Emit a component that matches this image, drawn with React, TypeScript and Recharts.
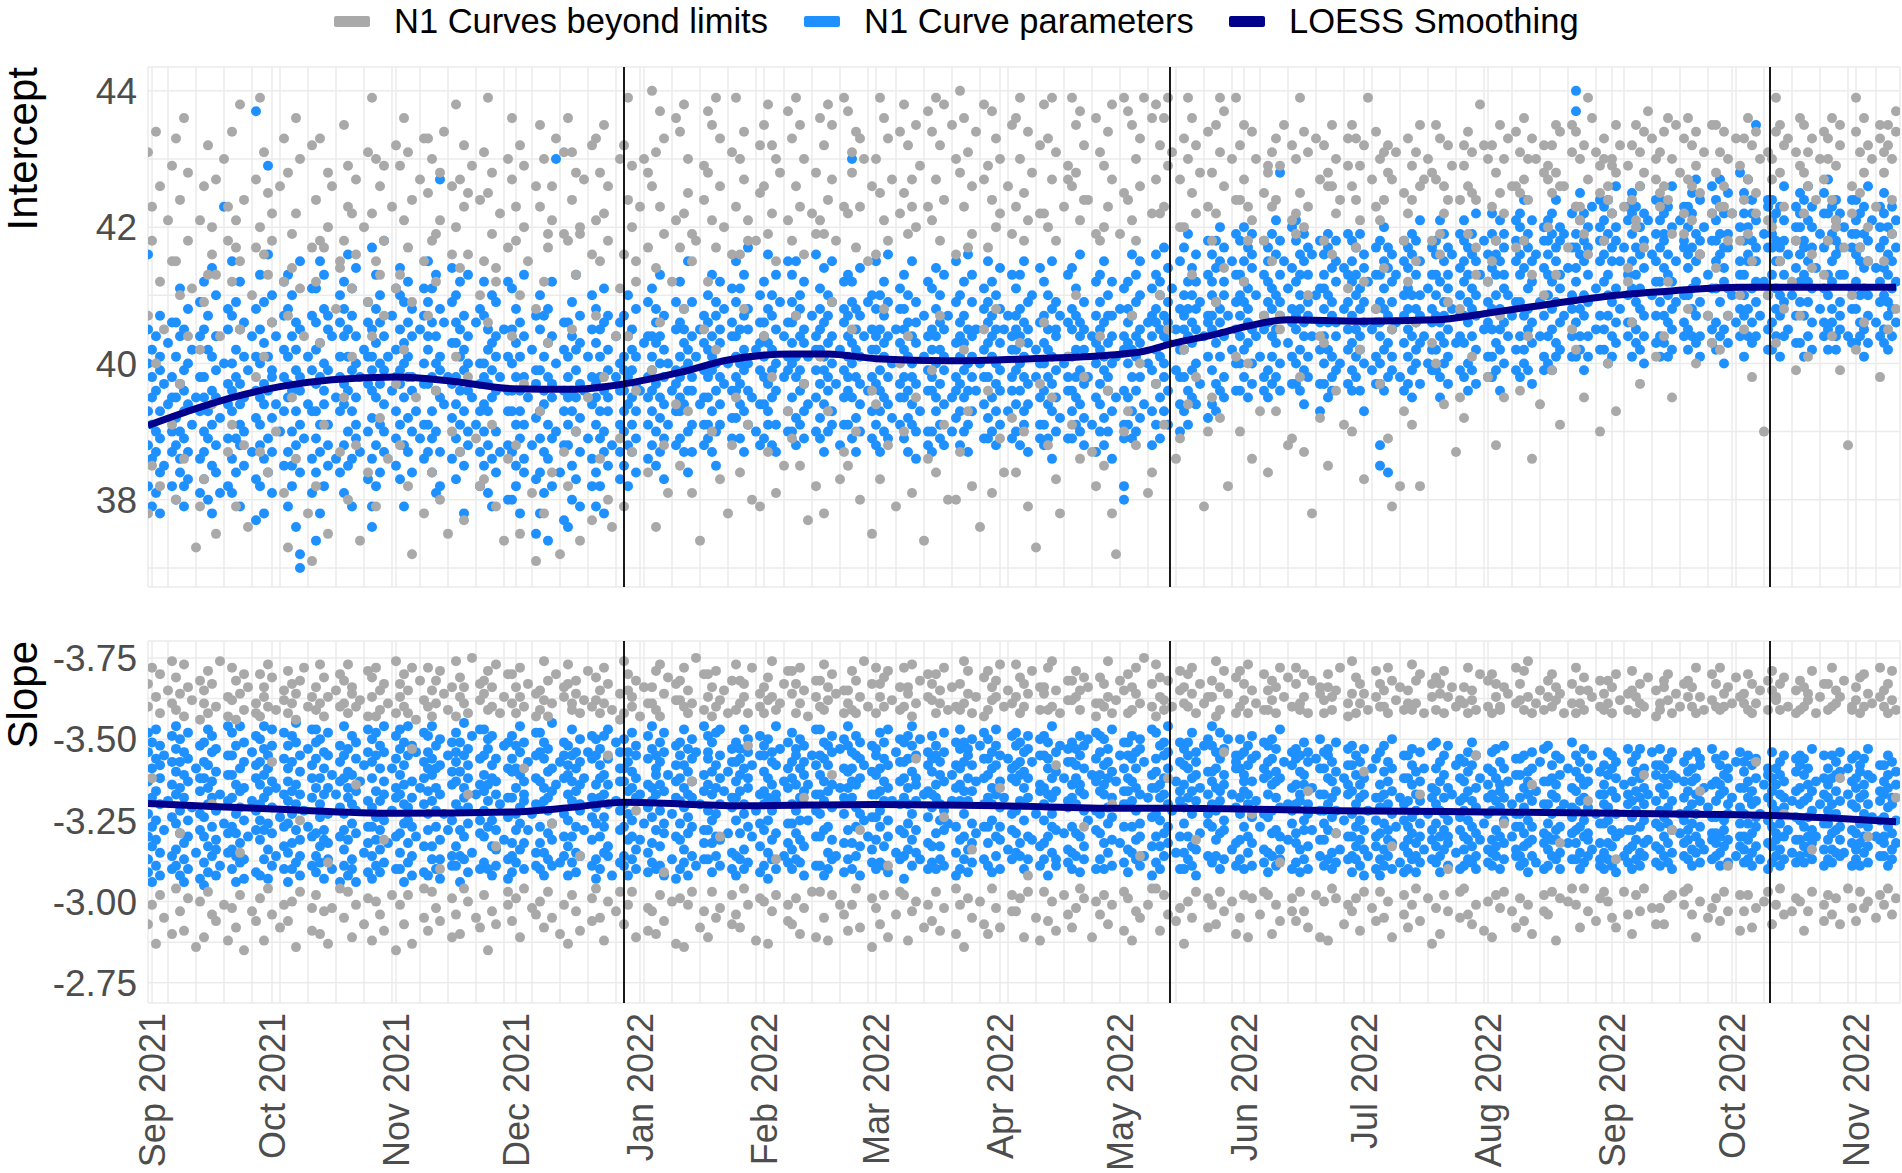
import React from 'react';
import { ComposedChart, Scatter, Line, XAxis, YAxis, CartesianGrid, ReferenceLine } from 'recharts';

// ---------- axes / ticks (x = days since 1 Sep 2021) ----------
const monthTicks = [0, 30, 61, 91, 122, 153, 181, 212, 242, 273, 303, 334, 365, 395, 426];
const monthLabels = ['Sep 2021', 'Oct 2021', 'Nov 2021', 'Dec 2021', 'Jan 2022', 'Feb 2022', 'Mar 2022', 'Apr 2022', 'May 2022', 'Jun 2022', 'Jul 2022', 'Aug 2022', 'Sep 2022', 'Oct 2022', 'Nov 2022'];
const weekTicks = [4, 11, 18, 25, 32, 39, 46, 53, 60, 67, 74, 81, 88, 95, 102, 109, 116, 123, 130, 137, 144, 151, 158, 165, 172, 179, 186, 193, 200, 207, 214, 221, 228, 235, 249, 256, 263, 270, 277, 284, 291, 298, 305, 312, 319, 326, 333, 340, 347, 354, 361, 368, 375, 382, 389, 396, 403, 410, 417, 424, 431];
const phaseLines = [118, 254.5, 404.5];
const interceptTicks = [37, 38, 39, 40, 41, 42, 43, 44];
const interceptMajor = [38, 40, 42, 44];
const interceptMajorLabels = ['38', '40', '42', '44'];
const slopeTicks = [-3.75, -3.625, -3.5, -3.375, -3.25, -3.125, -3, -2.875, -2.75];
const slopeMajor = [-3.75, -3.5, -3.25, -3, -2.75];
const slopeMajorLabels = ['-3.75', '-3.50', '-3.25', '-3.00', '-2.75'];

// ---------- LOESS smoothing ----------
const interceptLoessDays = [-1, 10, 20, 32, 45, 61, 75, 90, 105, 118, 132, 144, 160, 169, 181, 199, 220, 239, 248, 255, 266, 274, 284, 302, 321, 333, 354, 366, 381, 397, 415, 436];
const interceptLoessValues = [39.09, 39.32, 39.5, 39.66, 39.76, 39.8, 39.74, 39.63, 39.62, 39.7, 39.87, 40.05, 40.14, 40.14, 40.07, 40.04, 40.07, 40.12, 40.18, 40.29, 40.43, 40.55, 40.64, 40.62, 40.64, 40.73, 40.91, 41.0, 41.07, 41.12, 41.12, 41.12];
const slopeLoessDays = [-1, 15, 32, 61, 90, 105, 118, 147, 181, 212, 242, 255, 296, 333, 366, 405, 420, 436];
const slopeLoessValues = [-3.302, -3.293, -3.284, -3.272, -3.276, -3.29, -3.306, -3.295, -3.299, -3.295, -3.287, -3.287, -3.28, -3.276, -3.272, -3.265, -3.257, -3.246];

// ---------- point data: one string per week (Tue..Mon, first day = 31 Aug 2021), days split by "|" ----------
// intercept codes: value = 36 + code/10
const interceptBlueWeeks = [
  '56 40 22 33 28 45|31 19 38 26 42 35|27 44 21 36 30|39 24 47 33 29 18 41|25 37|34 43|30 22 46 38 27 35',
  '28 41 35 20 46 32|37 24 44 30 51 26|22 39 33 45 29 36 19|40 27 48 34 23|31 42|35|26 38 49 21 33 44',
  '45 30 23 38 52 27 35|20 42 33 47 29|36 25 41 31 54 18|39 28 44 24 35 50|32 21|40 63|29 45 37 22 34 48',
  '33 47 26 40 21 36 55|42 29 38 24 49|31 45 19 37 28 52 34|25 41 35 46 30|39|27 44|36 23 48 32 41 17 77',
  '40 28 53 35 22 45 31|37 49 26 43 18 34|29 41 36 56 24 69|46 32 39 21 50 27 38|34 44|30|42 25 38 52 33 47',
  '35 48 27 41 19 53 37|44 30 36 25 50 22|39 46 28 42 33 16|31 38 55 24 45 36 10 12|29|41 34|47 26 39 33 51 21',
  '42 29 37 51 24 46 33 14|38 55 27 43 31 18|36 48 22 40 34 53|25 39 45 31 28 47|44|35 26|33 50 41 24 38 46',
  '37 52 28 44 34 21 48|41 30 56 36 25 45|33 47 39 26 51 19|44 35 29 40 54 31|38 27|42|30 46 37 23 49 41',
  '45 32 39 57 26 41 36 16 19|28 48 35 43 22 53|40 31 50 37 24 46|34 44 27 39 58 30|41|36 47|25 42 33 51 38 29',
  '39 50 31 45 23 37 54|43 28 40 35 49 19|32 46 38 27 52 41|36 30 44 24 48 38|33|45 29|40 26 51 37 31 47',
  '31 44 37 55 27 42 49|38 24 46 33 51 29|44 36 21 40 30 53|27 41 48 35 39 22 67|46 34|38|32 49 43 26 37 54',
  '43 29 38 50 23 46 34|36 52 27 41 31 45|25 39 47 33 18 42|40 28 36 53 30 44|35|31 46|37 22 48 40 27 33',
  '34 47 25 40 30 52 38|42 21 37 45 28 33|39 50 26 43 35 19|30 44 36 24 49 41|27 38|45|33 41 20 36 52 28',
  '40 27 45 33 20 51 36|31 43 25 38 48 22|36 29 46 18 41 33|44 26 38 53 31 24|35|28 42|39 23 47 32 37 15',
  '33 45 24 39 18 50 29|41 27 36 47 21 34|26 43 31 38 14 48|37 22 44 29 35 52|30 40 70|24|42 28 36 17 46 33',
  '28 41 35 16 46 31 38|44 25 33 20 49 36|39 30 42 23 35 53|32 47 19 37 27 43|36|41 29|34 22 45 38 26 50',
  '37 24 43 31 48 19 35|29 45 38 22 41 33|46 27 36 51 30 18|35 42 25 39 33 47|28|38 44|31 40 23 46 36 27',
  '41 30 36 47 25 39 33|34 44 28 50 38 22|39 31 45 27 42 35|29 37 48 33 24 41|36|43|38 26 44 31 35 49',
  '44 33 39 28 51 36 41|37 48 30 43 25 46|32 40 53 35 27 44|47 29 38 42 34 23|40 31|36|45 33 28 49 39 37',
  '35 46 41 29 52 38 33|43 27 39 48 34 45|30 42 36 55 24 40|38 49 31 44 27 36|41|34 45|39 28 47 35 43 31',
  '42 35 50 29 46 38 31|39 53 33 44 27 41|47 36 30 49 40 25|34 45 38 52 31 43|37 48|40|44 32 51 36 29 46',
  '38 49 32 44 55 36 41|45 29 40 51 34 37|33 47 42 27 53 39|48 36 31 45 40 57|35|42 30|39 50 34 46 28 43',
  '46 34 41 52 29 38 44|37 48 33 43 56 31|42 28 50 39 35 47|31 45 40 53 27 36|49|38 44|41 33 55 30 46 39',
  '40 53 35 46 30 43 49|47 32 41 38 55 28|36 50 44 31 48 39|43 29 52 37 45 33|41 34|47|30 44 39 56 35 42',
  '45 37 51 32 42 48 29|39 54 34 46 41 27|50 36 43 30 47 38|33 49 40 55 31 44|37|42 28|46 35 52 39 31 48',
  '38 47 31 44 53 36 41|43 29 49 35 40 52 70|32 45 38 27 48 42|47 34 41 30 54 37|44|36 49|33 42 50 29 45 38',
  '44 31 48 37 42 55 28|36 50 33 45 39 27|47 35 41 52 30 43|29 44 38 49 34 56|40 32|45|37 48 31 43 51 35',
  '35 48 42 29 53 38 45|41 32 46 36 50 27|38 44 31 55 40 34|46 30 43 37 49 26|33|41 47|36 52 30 44 39 28',
  '42 36 51 30 45 38 27|48 33 40 54 35 44|29 46 37 42 31 50|39 53 34 45 28 41|47|35 30|43 38 49 32 55 36',
  '37 50 33 44 28 46 41|43 35 52 30 47 39|31 45 40 56 36 27|49 38 44 33 41 53|36 45|40|34 48 42 29 51 38',
  '46 32 43 38 55 29 49|35 47 41 30 44 52|40 33 50 37 45 28|43 54 36 48 31 39|45|33 47|38 42 29 53 36 44',
  '39 51 34 45 30 47 42|44 28 40 53 36 48|33 46 38 31 55 41|37 49 43 27 45 34|50|38 42|31 46 40 54 35 29',
  '43 36 52 31 47 40 28|38 50 34 45 29 42|48 33 41 55 37 26|45 39 30 49 35 44|32 47|40|41 29 53 36 46 38',
  '36 48 41 33 54 29 45|42 31 47 38 51 35|30 44 39 56 34 46|49 37 42 28 45 32|38|44 31|47 35 52 40 27 43',
  '45 30 49 37 42 53 34|39 46 32 55 41 28|47 36 43 30 50 38|33 44 40 52 26 47|41 35|48|36 42 31 51 44 29 20 22',
  '40 52 35 46 31 48 43|47 33 42 56 38 29|36 49 44 30 53 41|45 38 32 50 43 55|34|46 40|39 51 33 47 28 44',
  '48 37 53 42 31 46 56|41 50 35 45 29 52|44 38 57 33 47 40|36 49 43 54 31 46|51|39 45|42 55 34 48 38 30',
  '45 57 38 50 33 47 42|52 36 48 44 59 31|39 54 46 35 50 43|48 40 56 34 45 52|37 49|44|53 41 47 32 58 46',
  '50 39 56 45 34 52 47|43 58 37 49 54 33|55 41 48 36 60 46|38 52 44 57 35 50|47|42 55|49 36 59 45 40 53',
  '47 58 40 53 36 50 44|55 42 49 60 38 52|43 57 46 35 51 48|59 40 54 45 37 56|50 44|41|53 47 38 58 45 36',
  '52 39 57 46 35 49 55|44 59 41 51 37 48|56 43 50 38 61 45|40 53 47 36 58 49 68|55|43 51|46 37 54 48 60 41',
  '45 58 37 52 47 61 40|53 42 56 48 36 50|39 55 44 59 46 34|57 41 49 53 38 47|44 56|50|42 58 37 51 46 33',
  '51 40 56 44 37 53 48|42 57 46 35 50 59|47 38 54 41 49 36|55 44 39 58 46 52|40|48 54|37 53 45 59 42 49',
  '47 55 39 52 43 58 36|50 41 57 45 38 53|44 59 48 36 51 42|56 40 49 46 33 54|52|45 39|48 57 41 53 37 46',
  '40 53 46 58 37 49 44 25 28|55 42 48 36 51 60|47 38 54 43 57 24|41 52 45 39 56 49|46 53|38|50 43 58 36 47 55',
  '54 41 48 37 57 45 51|39 56 44 50 35 59|46 53 40 58 42 48|37 50 55 43 47 61|44|51 40|57 46 39 53 48 42',
  '47 58 42 53 39 50 56|44 61 38 52 46 35|55 43 49 59 40 47|51 37 57 45 53 41|48 56|43|39 54 47 59 44 50',
  '52 43 58 47 38 55 61|46 53 40 57 49 36|59 44 51 39 56 48|42 55 47 62 37 50|53|45 58|49 41 56 38 52 46',
  '48 59 41 54 45 62 38|56 43 50 58 39 53|45 61 48 36 55 42|51 46 59 40 53 57|44 50|47|58 42 55 39 49 61',
  '53 44 60 49 38 56 62|47 58 42 54 64 40|59 45 51 39 57 48|43 55 61 46 52 37|56|49 44|60 41 54 47 58 39',
  '50 61 44 56 40 58 53|62 45 52 39 59 48|43 57 64 49 41 55|58 46 53 60 42 51|47 59|54|44 62 50 57 41 48',
  '57 46 63 52 41 59 54 80 77|48 61 44 56 65 42|55 50 39 62 47 58|44 60 53 41 57 49|63|51 45|58 42 60 47 55 64',
  '52 63 45 58 42 56 61|47 59 53 40 64 50|62 44 57 49 55 41|58 51 66 46 43 60|48 55|57|44 61 50 63 46 53',
  '55 46 62 51 41 59 65|49 57 43 63 53 45|60 48 56 42 66 51|44 62 54 47 58 40|61|50 56|47 64 52 43 59 55',
  '49 61 44 57 52 64 41|58 47 54 62 43 59|46 63 50 41 56 53|60 45 52 66 48 42|55 49|61|44 57 63 50 46 58',
  '56 45 63 50 42 60 54|48 62 57 44 65 51|59 43 55 67 47 52|41 58 64 49 56 44|60|53 47|62 45 58 51 66 43',
  '51 64 46 58 42 61 55|63 49 56 44 59 67|45 57 52 62 40 54|59 47 65 51 43 57|50 62|46|55 68 48 60 44 53',
  '58 47 62 53 41 65 50|44 60 55 67 48 56|62 51 43 58 46 64|49 57 52 44 61 55 75|47|59 52|64 45 57 50 63 42',
  '46 59 53 64 42 57 61|55 48 62 44 58 51|47 63 50 57 41 55|61 44 58 66 49 53|56 45|50|43 60 54 47 63 58',
  '60 49 56 43 62 52 65|47 58 53 41 64 57|55 44 61 49 66 52|42 57 63 51 46 60|54|48 59|62 51 44 57 65 46',
  '53 62 45 58 50 67 42|59 46 55 63 48 52|44 61 56 42 58 64|57 49 53 45 62 47|60 53|44|51 64 48 57 43 59',
  '48 59 64 52 43 56 61|55 44 62 50 57 46|63 51 45 59 54 41|50 66 47 58 43 55|61|46 54|57 49 63 44 52 60',
  '54 45 62 50 58 43 65|47 60 53 56 42 49|59 51 44 63 48 55|52 46 61 57',
];
const interceptGrayWeeks = [
  '71 47 18|58 25 63|74 40|52 22 66|45|61|69 31 55',
  '55 73 20|64 37 50|76 26|58 44 68|51|13|61 19 42',
  '66 49 23|72 53|60 34 56|53 15 67|44|70|58 27 63',
  '74 52 31|61 19 57|55 45 78|64 28|16|50|67 38 57',
  '60 79 27|56 71 41|65 24 53|58 46 62|30|66|52 73 21',
  '68 47 13|54 59 35|62 26 76|51 70|44|18|57 11 72',
  '64 52 22|73 43 58|57 31|68 60 15|66|48|55 54 27',
  '75 58 35|63 20 69|51 62 41|67 28 56|14|60|49 71 24',
  '62 44 79|70 55 19|66 32 53|58 47 69|26|63|72 51 37',
  '69 53 28|76 61 42|57 22 71|64 49 12|35|67|55 73 18',
  '73 47 65|58 24 70|59 52 36|61 20 68|74|15|66 56 30',
  '60 78 41|67 27 54|72 63 17|56 65 38|69|29|64 50 22',
  '71 55 23|65 46 79|59 31 68|54 19 52|62|14|70 57 26',
  '67 44 76|58 28 63|72 50 15|69 37 60|55|21|48 66 11',
  '63 75 33|70 52 18|57 59 43|66 24 61|73|12|59 71 27',
  '76 58 22|64 45 71|53 30 68|59 60 14|67|35|72 56 17',
  '61 73 47|68 26 55|75 62 38|58 66 20|16|44|70 51 29',
  '72 56 19|79 64 44|60 27 69|55 52 36|63|70|57 68 24',
  '66 80 39|71 54 16|63 46 77|59 73 28|21|52|76 61 34',
  '74 57 25|62 78 48|70 33 65|59 55 21|58|14|64 45 69',
  '68 52 77|75 30 61|57 79 42|66 23 73|60|18|71 56 28',
  '79 63 35|70 56 24|74 48 67|61 58 31|20|58|65 72 19',
  '66 75 44|59 78 27|72 62 38|70 55 21|68|25|61 77 33',
  '73 58 29|79 66 47|63 25 75|70 56 37|17|62|68 59 22',
  '61 76 41|72 59 18|78 64 33|67 49 75|58|23|79 63 27',
  '77 62 25|68 71 45|74 57 30|63 73 20|70|55|66 15 36',
  '70 56 34|79 65 23|61 76 48|73 58 28|67|19|62 74 40',
  '65 78 30|72 59 44|63 67 21|60 75 35|69|14|77 63 26',
  '74 61 39|67 79 24|58 72 47|78 64 31|20|75|70 56 20',
  '80 68 27|63 76 42|71 57 33|59 66 22|74|16|67 78 45',
  '69 57 36|77 64 21|73 60 48|62 70 29|24|66|59 75 32',
  '76 63 24|70 79 43|65 58 30|74 61 19|68|13|72 62 37',
  '62 78 46|73 60 28|79 67 35|71 58 23|18|63|67 69 41',
  '79 66 31|68 75 50|61 77 26|72 64 38|64|27|76 59 22',
  '71 58 44|60 69 25|74 63 36|67 78 18|12|59|65 79 30',
  '64 77 33|75 61 47|70 58 28|66 73 40|79|21|62 76 24',
  '78 67 37|72 62 50|63 76 31|79 69 45|71|26|67 60 29',
  '73 60 42|79 70 34|76 65 53|62 72 38|68|19|74 63 30',
  '58 68 35|75 62 49|71 79 32|66 77 54|22|70|79 64 41',
  '72 64 30|67 75 52|58 63 40|74 61 26|70|33|65 47 58',
  '69 68 24|63 71 55|73 64 33|45 69 47|75|28|72 61 29',
  '70 62 59|65 79 38|74 60 27|71 63 50|18|73|67 44 32',
  '58 72 43|68 66 25|75 66 56|62 70 36|64|31|73 69 51',
  '66 75 30|73 64 57|69 61 42|52 72 23|79|67|74 63 48',
  '61 70 37|64 71 54|68 72 29|67 45 19|71|22|65 58 33',
  '73 62 52|69 64 31|55 71 46|75 66 22|67|70|68 43 58',
  '75 67 40|59 73 56|66 62 34|72 64 49|69|27|48 64 35',
  '69 72 32|74 66 59|65 71 41|64 57 53|78|72|70 52 38',
  '63 72 55|68 58 28|75 65 47|62 70 35|73|66|66 74 57',
  '71 65 36|76 67 58|64 70 44|53 73 26|70|34|72 68 50',
  '67 69 60|72 65 39|68 75 53|66 74 31|66|57|75 71 45',
  '74 63 42|70 63 61|59 72 35|67 79 56|76|71|65 69 30',
  '70 73 58|66 64 40|69 70 62|75 68 33|72|63|69 52 54',
  '72 64 46|61 75 60|71 66 37|68 74 57|77|73|67 70 41',
  '65 71 63|74 66 44|64 76 52|70 59 35|75|68|73 62 59',
  '67 76 48|66 72 61|74 69 40|56 65 56|71|47|75 62 43',
  '75 68 54|71 63 42|66 74 63|58 70 47|62|73|69 50 58',
  '64 73 45|76 67 59|72 55 38|74 65 62|70|30|61 71 50',
  '70 67 60|79 74 43|75 68 55|63 72 48|73|52|71 58 39',
  '76 69 47|68 75 62|66 71 41|73 54 56|64|70|74 67 53',
  '73 70 58|64 76 44|69 60 61|75 72 39|57|28|66 62 50',
  '79 74 42|71 65 57|76 68 46|72 55 60|70|63|75 73 38',
  '68 71 55|75 72 45|64 70 59|77 74 48',
];
// slope codes: value = -2.75 - code/100
const slopeBlueWeeks = [
  '34 52 71 45 62 38 77|48 66 31 57 74 42|59 36 69 50 78 44|63 40 55 73 33 67|47 70|56|39 61 76 51 35 68',
  '72 41 58 36 65 79 49|53 68 33 46 75 60|38 57 71 43 64 31|77 50 35 62 45 69|54|66 40|73 47 59 32 63 52',
  '45 63 37 74 51 68 30|60 42 78 55 34 67|71 48 39 62 57 76|33 65 53 44 72 41|58 36|49|64 79 40 56 70 46',
  '57 35 70 48 77 41 64|39 61 52 73 46 31|66 54 79 37 59 43|74 32 60 50 68 38|45|71 56|34 63 47 76 53 67',
  '68 50 33 61 44 75 55|47 72 38 64 57 79|32 59 49 70 41 66|54 78 36 62 46 73|60 39|51|42 69 58 35 77 48',
  '40 66 56 31 73 49 62|76 43 59 35 68 52|61 37 74 47 55 80|44 70 58 33 65 39|53|48 72|67 36 57 78 45 63',
  '74 46 60 39 69 34 78|51 63 42 75 55 37|47 71 58 32 66 44|60 38 77 52 43 70|35 64|58|45 73 54 68 31 62',
  '52 70 36 63 47 79 41|65 33 57 72 44 60|38 76 49 64 35 55|69 46 59 31 74 53|62|40 67|56 34 71 48 78 43',
  '63 39 75 54 32 68 48|44 70 59 36 77 51|73 56 41 66 47 34|58 79 37 62 50 71|43|66 53|35 60 76 45 69 57',
  '46 72 58 35 64 78 40|67 49 31 74 55 61|54 37 70 43 79 50|33 62 48 73 57 39|71 45|60|68 42 55 77 34 63',
  '59 33 66 47 76 52 71|38 64 56 79 42 69|48 73 35 60 53 66|75 44 67 38 58 32|52|47 70|61 39 74 50 65 36',
  '71 55 42 68 36 62 77|53 39 74 47 65 31|60 80 45 57 70 38|49 63 34 72 54 67|40 76|58|46 69 35 61 78 50',
  '37 64 53 78 45 70 59|72 48 35 61 56 75|42 67 50 33 76 63|58 36 69 47 62 41|55|73 44|66 51 38 74 57 32',
  '65 43 76 39 57 69 34|47 73 60 52 37 66|79 54 41 64 49 71|35 62 56 74 43 58|68 47|52|40 77 63 36 70 55',
  '54 71 35 62 48 77 43|69 40 56 74 33 60|46 65 53 38 72 57|80 49 36 66 59 44|61|37 68|74 52 45 63 39 70',
  '42 67 58 33 73 50 64|56 78 45 37 62 70|34 59 71 48 66 40|53 75 61 39 55 68|47 63|71|57 36 69 44 76 51',
  '75 49 61 38 70 54 32|63 45 72 57 35 67|51 76 40 64 48 58|39 69 55 78 42 61|33|56 74|62 47 37 71 53 66',
  '48 66 39 75 55 62 36|71 52 44 68 59 33|65 38 77 50 60 45|57 73 41 63 35 70|58 44|49|69 54 76 40 61 34',
  '60 37 72 51 43 79 56|35 64 58 70 47 66|53 74 42 61 36 68|77 49 59 33 71 46|64|52 38|73 57 45 67 32 62',
  '44 70 56 63 35 74 49|67 41 78 54 60 37|58 33 65 46 72 51|62 75 39 57 48 69|36 71|55|47 64 79 43 59 38',
  '69 53 38 76 47 61 71|43 58 65 34 74 50|77 45 60 52 39 67|36 63 55 70 44 78|59|46 65|54 72 40 68 35 57',
  '39 62 74 50 68 33 57|64 46 72 59 38 69|52 78 41 66 55 35|71 48 63 37 75 60|45 67|53|76 42 58 34 70 49',
  '73 47 59 36 70 55 65|50 75 40 63 57 32|68 44 71 53 38 61|56 79 46 67 35 58|72|39 62|49 74 60 43 66 37',
  '55 68 41 77 49 63 35|72 38 61 53 70 46|37 66 57 44 75 50|64 42 73 59 33 68|50 61|70|58 36 67 78 45 53',
  '64 36 70 52 45 78 58|47 69 33 62 56 74|59 73 40 67 48 35|71 54 38 76 61 44|39|60 72|52 66 43 57 75 34',
  '38 60 73 47 65 56 79|66 43 57 71 35 62|48 76 61 39 54 70|33 69 52 63 42 74|67 50|45|73 58 37 65 51 41',
  '70 51 35 64 58 72 44|59 77 48 37 66 53|74 42 62 56 69 36|45 60 78 50 34 67|56|71 40|62 47 75 55 38 68',
  '46 74 63 39 57 68 32|69 55 41 76 49 60|36 65 52 73 44 79|61 40 70 56 47 63|75 38|58|51 67 43 71 59 35',
  '58 42 69 54 76 37 65|35 61 73 46 57 70|64 50 38 68 55 42|77 47 62 36 71 53|49|64 56|40 74 60 33 67 48',
  '72 56 44 66 35 61 78|52 38 68 59 74 45|41 72 56 63 34 70|59 75 43 67 49 37|62 46|73|55 38 69 48 77 63',
  '43 69 57 75 48 36 64|66 50 34 71 60 55|78 45 67 39 58 73|48 62 54 35 70 44|57|69 41|63 52 76 38 66 47',
  '67 40 73 53 62 46 77|39 64 56 74 43 68|55 35 60 71 50 65|72 45 38 63 57 76|44 68|52|36 70 59 75 42 61',
  '50 76 38 60 70 55 43|74 58 45 66 33 69|63 48 79 52 40 57|36 71 59 47 65 38|73|46 63|68 54 41 72 56 37',
  '61 35 68 48 74 57 40|55 72 63 39 67 46|34 59 70 45 76 61|66 42 53 73 38 58|50 75|64|47 62 35 69 53 77',
  '76 59 46 71 38 64 52|43 67 58 75 35 61|68 40 54 63 49 72|57 78 44 65 36 51|62|43 70|59 37 74 48 66 55',
  '41 63 55 70 34 59 74|62 48 76 40 56 69|53 71 44 66 38 60|75 49 58 36 72 45|68 39|57|64 51 78 42 60 33',
  '69 52 37 65 60 77 45|57 73 42 61 50 35|70 46 58 74 39 63|43 66 55 71 48 79|53|62 40|74 56 45 68 35 59',
  '54 72 61 40 67 49 35|66 45 70 57 38 74|42 63 52 77 59 36|68 56 41 64 33 71|60 46|73|49 65 58 39 75 52',
  '37 65 48 73 55 62 79|71 53 39 60 66 44|59 77 46 35 69 56|50 38 72 61 47 64|75|41 58|66 36 70 54 43 68',
  '66 44 70 57 38 75 52|48 64 59 35 71 62|73 40 55 67 45 58|62 76 43 51 69 36|56 70|48|37 63 74 52 66 41',
  '58 73 40 64 51 34 68|61 46 75 53 39 69|47 62 36 72 57 65|41 54 78 45 63 38|68|55 44|71 49 60 35 67 53',
  '43 61 72 55 46 69 37|70 56 41 65 58 34|64 50 74 38 61 47|55 68 35 71 52 42|60 47|69|53 39 66 44 75 58',
  '71 49 58 36 66 53 44|38 63 70 47 55 72|57 35 68 51 62 40|74 46 59 37 65 53|41|63 50|58 72 45 61 38 67',
  '52 67 39 59 45 73 34|64 42 55 70 38 48|36 61 50 44 68 57|47 72 33 58 41 63|53 39|66|45 57 35 69 50 42',
  '61 38 54 46 71 33 57|49 65 41 58 36 73|55 44 68 39 62 47|35 59 52 75 43 66|48|57 37|70 42 55 34 63 50',
  '40 63 48 70 35 56 44|67 51 38 61 46 72|43 58 34 65 53 39|62 45 71 37 56 49|66 41|52|38 60 47 73 44 57',
  '55 42 66 37 59 49 74|39 62 53 45 68 34|70 47 57 41 64 52|45 36 60 73 50 43|58|67 40|51 35 63 47 69 56',
  '68 45 53 36 62 41 57|50 71 44 59 38 65|37 56 48 67 42 74|60 39 54 46 70 35|44 63|49|57 41 66 52 37 61',
  '44 58 71 40 53 65 36|63 47 39 56 72 42|54 68 35 61 45 59|38 66 50 43 57 73|62|45 55|69 39 52 64 41 48',
  '57 39 64 48 36 69 52|42 60 54 70 37 46|65 43 58 34 62 50|71 48 39 66 44 56|37 59|68|46 62 35 55 72 43',
  '36 62 49 73 45 55 41|58 44 67 39 52 63|47 70 38 57 44 61|53 35 64 48 69 40|55|43 66|60 38 51 74 46 54',
  '65 47 38 59 53 70 43|40 63 56 35 68 48|61 45 72 50 37 57|44 66 39 62 54 46|70 41|52|38 58 65 43 49 36',
  '49 67 55 40 61 35 58|71 43 50 64 38 54|36 59 47 66 42 70|57 45 63 34 52 68|46|61 39|55 72 41 58 47 37',
  '42 56 68 47 35 62 51|59 38 65 44 53 70|48 72 40 57 36 63|66 50 43 60 39 55|58 44|71|37 64 49 56 42 67',
  '60 41 53 36 67 48 72|45 63 51 39 58 66|54 37 69 43 61 49|40 71 56 47 64 35|63|52 46|68 43 57 39 62 50',
  '38 65 47 59 44 70 53|62 49 36 66 55 41|71 45 58 40 63 52|48 67 37 56 43 69|41 60|54|46 61 38 72 51 44',
  '56 43 62 39 69 51 46|40 67 58 45 61 36|64 50 42 70 47 59|37 55 66 44 52 63|57|39 68|49 60 42 54 71 45',
  '45 68 37 60 52 41 65|57 44 70 49 38 62|40 59 55 67 46 36|63 51 42 69 48 56|52 38|61|66 43 57 35 64 50',
  '63 48 55 42 71 37 59|46 61 39 66 53 44|58 36 64 49 41 68|54 70 45 57 38 62|47|56 40|44 65 51 69 37 59',
  '39 60 50 67 44 55 70|64 42 56 37 69 48|51 66 40 61 45 57|43 59 72 38 53 47|62 45|55|70 41 58 49 63 36',
  '57 44 66 38 61 49 53|41 70 55 46 63 37|68 47 59 40 64 52|56 39 65 44 71 48|40|58 66|47 62 36 55 43 69',
  '46 63 41 70 54 38 60|67 49 57 43 65 36|40 58 52 69 45 61|64 37 55 48 72 42|51 63|45|59 39 67 44 56 50',
  '62 45 58 39 67 51 43|48 64 36 60 54 70|55 41 68 46 57 38|43 65 50 61',
];
const slopeGrayWeeks = [
  '92 18 85|97 24 63|88 12|83 27 95|20|90|86 15 99',
  '84 29 94|22 89 46|98 16 82|26 91|87|11|93 25 81',
  '90 14 86|96 28 83|21 92 55|85 19|99|24|88 82 13',
  '87 23 97|81 17 93|89 27 40|84 10 95|91|22|83 86 19',
  '95 26 82|88 13 91|85 29 98|21 94 68|84|17|90 24 87',
  '83 19 96|92 25 86|11 89 81|28 93 50|97|85|16 88 23',
  '91 27 84|86 15 98|94 22 82|88 12 37|23|90|85 29 95',
  '86 20 93|98 28 83|89 14 91|24 85 61|87|18|96 82 26',
  '94 13 88|82 25 97|90 21 84|16 92 44|86|27|83 99 10',
  '88 24 92|85 18 95|27 83 90|97 12 72|81|93|20 87 29',
  '97 16 85|90 28 82|93 23 86|19 96 35|89|84|26 91 14',
  '82 21 99|94 15 88|86 29 91|83 25 58|100|20|92 87 17',
  '89 27 93|84 10 96|22 91 85|98 18 42|83|88|24 95 28',
  '95 19 86|91 26 83|88 14 97|85 29 66|92|23|82 89 21',
  '84 25 90|99 17 87|93 28 82|20 86 49|95|15|91 24 88',
  '92 12 98|86 27 84|89 22 93|83 16 39|87|96|26 85 19',
  '87 29 94|83 20 90|97 13 86|25 92 70|84|22|89 81 28',
  '99 18 83|90 24 95|85 28 88|14 93 53|82|91|23 86 16',
  '86 22 91|96 15 84|82 27 98|89 19 34|94|25|87 92 12',
  '93 26 87|85 11 97|90 24 83|28 86 62|100|17|84 95 22',
  '88 14 95|82 28 91|96 20 85|87 23 45|90|83|27 93 18',
  '84 21 98|93 17 86|88 29 92|24 83 73|97|13|89 85 26',
  '91 25 83|87 12 94|99 22 88|84 27 38|86|92|19 96 24',
  '96 18 89|83 26 92|86 15 97|90 23 57|82|28|93 88 14',
  '85 28 93|98 20 84|91 13 87|27 95 64|89|24|83 90 21',
  '90 16 86|84 24 96|93 29 83|17 88 47|99|85|26 92 11',
  '83 23 97|92 18 88|85 27 94|96 14 36|87|21|91 84 28',
  '97 27 85|89 13 91|82 22 98|86 25 69|93|17|88 95 24',
  '87 19 92|95 28 83|90 16 86|23 97 51|84|91|29 85 15',
  '92 24 84|86 11 99|96 26 89|83 20 41|88|25|94 82 18',
  '84 15 96|91 29 87|88 23 93|98 17 60|85|90|22 86 27',
  '98 22 88|83 26 94|92 14 85|89 28 33|96|20|84 91 13',
  '89 28 91|97 19 84|85 25 99|16 90 67|83|27|93 87 21',
  '93 17 87|88 23 96|84 29 90|26 94 48|91|14|86 82 25',
  '86 21 94|92 27 85|99 18 88|83 24 55|87|93|28 90 16',
  '95 26 83|84 13 91|89 22 97|20 86 39|100|24|92 85 29',
  '82 29 98|94 16 88|87 27 84|93 21 63|85|19|90 96 23',
  '91 12 86|85 25 95|97 20 89|28 83 44|92|86|17 88 26',
  '88 24 93|99 18 82|84 28 91|22 96 71|89|25|83 94 15',
  '96 20 85|87 27 92|83 14 98|90 26 52|86|21|95 84 28',
  '84 27 90|93 15 87|91 24 83|19 97 37|88|94|26 85 22',
  '92 19 97|86 28 84|88 22 95|83 17 59|93|27|89 91 14',
  '87 25 83|95 13 91|84 29 88|26 90 46|97|18|82 86 24',
  '99 22 89|83 26 94|92 16 86|89 28 65|84|23|96 88 19',
  '85 28 92|90 20 85|97 25 83|14 93 42|87|91|21 84 27',
  '90 17 86|84 24 98|86 29 93|95 19 58|83|26|88 92 12',
  '94 23 84|92 15 89|83 27 96|88 22 35|91|85|28 87 20',
  '86 29 91|97 21 83|90 18 87|24 84 70|95|16|93 85 25',
  '83 14 95|88 27 92|85 23 84|91 28 49|89|22|86 97 17',
  '92 26 87|84 19 96|99 24 88|83 15 61|86|90|27 84 22',
  '88 21 93|95 28 85|87 13 91|26 89 43|83|25|92 86 29',
  '97 24 83|86 17 90|84 29 94|90 22 56|88|19|85 93 26',
  '84 28 89|93 25 86|91 20 83|17 95 38|87|28|89 84 21',
  '90 15 96|83 27 88|86 22 92|85 29 64|94|23|82 90 18',
  '86 23 84|91 18 93|95 26 87|27 83 47|89|85|24 92 28',
  '93 29 88|85 21 91|83 14 97|88 25 59|84|20|95 87 23',
  '85 26 92|97 19 84|89 28 85|22 91 36|86|94|27 88 16',
  '89 22 86|84 27 95|92 17 83|86 23 68|90|25|84 93 28',
  '96 18 90|88 24 87|84 29 92|21 94 52|85|22|90 83 26',
  '84 25 93|91 16 85|87 22 89|96 28 41|83|88|24 92 19',
  '92 27 84|85 21 97|90 26 86|18 88 63|93|29|85 84 23',
  '87 19 91|94 28 83|85 23 95|89 25 45|86|20|97 88 27',
  '90 24 85|83 29 92|96 21 87|84 26 57',
];

// ---------- decoding ----------
type Pt = { x: number; y: number };
const FIRST_DAY = -1;
function decodeWeeks(weeks: string[], toValue: (c: number) => number): Pt[] {
  const out: Pt[] = [];
  weeks.forEach((w, wi) => {
    w.split('|').forEach((d, di) => {
      const x = FIRST_DAY + wi * 7 + di;
      d.trim().split(/\s+/).forEach((s) => {
        if (s) out.push({ x, y: toValue(Number(s)) });
      });
    });
  });
  return out;
}
const interceptValue = (c: number) => 36 + c / 10;
const slopeValue = (c: number) => -2.75 - c / 100;

const interceptBlue = decodeWeeks(interceptBlueWeeks, interceptValue);
const interceptGray = decodeWeeks(interceptGrayWeeks, interceptValue);
const slopeBlue = decodeWeeks(slopeBlueWeeks, slopeValue);
const slopeGray = decodeWeeks(slopeGrayWeeks, slopeValue);
const interceptLoess = interceptLoessDays.map((x, i) => ({ x, y: interceptLoessValues[i] }));
const slopeLoess = slopeLoessDays.map((x, i) => ({ x, y: slopeLoessValues[i] }));
const xTicks = Array.from(new Set([...monthTicks, ...weekTicks])).sort((a, b) => a - b);

// ---------- style ----------
const FONT = '"Liberation Sans", Arial, Helvetica, sans-serif';
const BLUE = '#1E90FF';
const GRAY = '#A9A9A9';
const NAVY = '#00008B';
const GRID = '#EBEBEB';
const TICK_COLOR = '#4D4D4D';
const R = 5;

const legendItems = [
  { label: 'N1 Curves beyond limits', color: GRAY, left: 334 },
  { label: 'N1 Curve parameters', color: BLUE, left: 804 },
  { label: 'LOESS Smoothing', color: NAVY, left: 1229 },
];

const blueDot = (p: any) => <circle cx={p.cx} cy={p.cy} r={R} fill={BLUE} />;
const grayDot = (p: any) => <circle cx={p.cx} cy={p.cy} r={R} fill={GRAY} />;

const EmptyTick = () => null;

const YTick = (props: any) => {
  const { x, y, payload, majors, labels } = props;
  const i = majors.findIndex((m: number) => Math.abs(m - payload.value) < 1e-6);
  if (i < 0) return null;
  return (
    <text x={x} y={y} dy="0.36em" textAnchor="end" fontSize={37} fill={TICK_COLOR} fontFamily={FONT}>
      {labels[i]}
    </text>
  );
};

const XTick = (props: any) => {
  const { x, y, payload } = props;
  const i = monthTicks.indexOf(payload.value);
  if (i < 0) return null;
  return (
    <g transform={`translate(${x},${y + 2}) rotate(-90)`}>
      <text x={0} y={0} dy="0.36em" textAnchor="end" fontSize={36} fill={TICK_COLOR} fontFamily={FONT}>
        {monthLabels[i]}
      </text>
    </g>
  );
};

const AxisTitle = (props: any) => {
  const { viewBox, text } = props;
  if (!viewBox) return null;
  return (
    <g transform={`translate(${viewBox.x + 37},${viewBox.y}) rotate(-90)`}>
      <text x={0} y={0} textAnchor="end" fontSize={42} fill="#000" fontFamily={FONT}>
        {text}
      </text>
    </g>
  );
};

export default function App() {
  return (
    <div style={{ position: 'absolute', left: 0, top: 0, width: 1902, height: 1173, background: '#fff', fontFamily: FONT, overflow: 'hidden' }}>
      {/* legend */}
      <div style={{ position: 'absolute', left: 0, top: 0, width: 1902, height: 42 }}>
        {legendItems.map((it) => (
          <div key={it.label} style={{ position: 'absolute', left: it.left, top: 0, height: 42, display: 'flex', alignItems: 'center' }}>
            <span style={{ display: 'inline-block', width: 36, height: 11, background: it.color, borderRadius: 2 }} />
            <span style={{ marginLeft: 24, fontSize: 34.5, color: '#000', lineHeight: '42px', whiteSpace: 'nowrap' }}>{it.label}</span>
          </div>
        ))}
      </div>

      {/* Intercept panel */}
      <div style={{ position: 'absolute', left: 0, top: 0 }}>
        <ComposedChart width={1902} height={600} margin={{ top: 67, right: 2, bottom: 0, left: 0 }}>
          <CartesianGrid stroke={GRID} strokeWidth={1.5} />
          <XAxis type="number" dataKey="x" domain={[-1, 437]} ticks={xTicks} interval={0} allowDataOverflow height={13} axisLine={false} tickLine={false} tick={<EmptyTick />} />
          <YAxis
            type="number"
            dataKey="y"
            domain={[36.72, 44.35]}
            ticks={interceptTicks}
            interval={0}
            allowDataOverflow
            width={148}
            axisLine={false}
            tickLine={false}
            tickMargin={5}
            tick={<YTick majors={interceptMajor} labels={interceptMajorLabels} />}
            label={<AxisTitle text="Intercept" />}
          />
          <Scatter data={interceptBlue} dataKey="y" fill={BLUE} shape={blueDot} isAnimationActive={false} />
          <Scatter data={interceptGray} dataKey="y" fill={GRAY} shape={grayDot} isAnimationActive={false} />
          <Line data={interceptLoess} dataKey="y" type="monotone" stroke={NAVY} strokeWidth={7} dot={false} activeDot={false} isAnimationActive={false} zIndex={700} />
          {phaseLines.map((d) => (
            <ReferenceLine key={d} x={d} stroke="#000" strokeWidth={1.8} zIndex={800} />
          ))}
        </ComposedChart>
      </div>

      {/* Slope panel */}
      <div style={{ position: 'absolute', left: 0, top: 600 }}>
        <ComposedChart width={1902} height={573} margin={{ top: 41, right: 2, bottom: 0, left: 0 }}>
          <CartesianGrid stroke={GRID} strokeWidth={1.5} />
          <XAxis type="number" dataKey="x" domain={[-1, 437]} ticks={xTicks} interval={0} allowDataOverflow height={170} axisLine={false} tickLine={false} tick={<XTick />} />
          <YAxis
            type="number"
            dataKey="y"
            domain={[-3.802, -2.688]}
            reversed
            ticks={slopeTicks}
            interval={0}
            allowDataOverflow
            width={148}
            axisLine={false}
            tickLine={false}
            tickMargin={5}
            tick={<YTick majors={slopeMajor} labels={slopeMajorLabels} />}
            label={<AxisTitle text="Slope" />}
          />
          <Scatter data={slopeBlue} dataKey="y" fill={BLUE} shape={blueDot} isAnimationActive={false} />
          <Scatter data={slopeGray} dataKey="y" fill={GRAY} shape={grayDot} isAnimationActive={false} />
          <Line data={slopeLoess} dataKey="y" type="monotone" stroke={NAVY} strokeWidth={7} dot={false} activeDot={false} isAnimationActive={false} zIndex={700} />
          {phaseLines.map((d) => (
            <ReferenceLine key={d} x={d} stroke="#000" strokeWidth={1.8} zIndex={800} />
          ))}
        </ComposedChart>
      </div>
    </div>
  );
}
